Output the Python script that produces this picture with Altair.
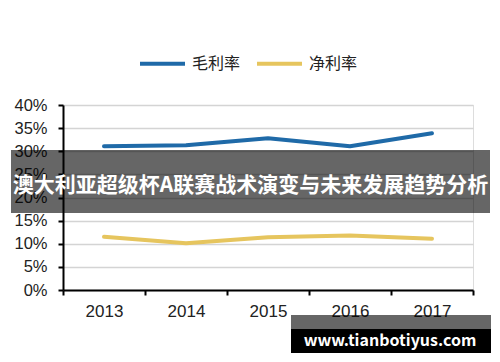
import altair as alt
import pandas as pd

years = ["2013", "2014", "2015", "2016", "2017"]
gross_margin = [0.311, 0.313, 0.328, 0.311, 0.339]
net_margin = [0.115, 0.101, 0.114, 0.118, 0.111]
series_names = ["毛利率", "净利率"]
series_colors = ["#1f6aa8", "#e6c55e"]
banner_text = "澳大利亚超级杯A联赛战术演变与未来发展趋势分析"
watermark_text = "www.tianbotiyus.com"

rows = []
for y, g, n in zip(years, gross_margin, net_margin):
    rows.append({"year": y, "series": series_names[0], "value": g})
    rows.append({"year": y, "series": series_names[1], "value": n})
df = pd.DataFrame(rows)

W, H = 410, 185

lines = alt.Chart(df).mark_line(strokeWidth=4, strokeCap="round", strokeJoin="round").encode(
    x=alt.X("year:O", bandPosition=0.5,
            scale=alt.Scale(type="band", paddingInner=0, paddingOuter=0),
            axis=alt.Axis(title=None, labelAngle=0, tickBand="extent", grid=False,
                          domainColor="#000", domainWidth=2, tickColor="#000", tickWidth=2,
                          tickSize=5, labelFont="Liberation Sans", labelFontSize=17,
                          labelColor="#222", labelPadding=8)),
    y=alt.Y("value:Q", scale=alt.Scale(domain=[0, 0.4]),
            axis=alt.Axis(title=None, format=".0%", values=[0, 0.05, 0.1, 0.15, 0.2, 0.25, 0.3, 0.35, 0.4],
                          grid=True, gridColor="#d4d4d4", gridWidth=1.5,
                          domainColor="#000", domainWidth=2, tickColor="#000", tickWidth=2,
                          tickSize=5, labelFont="Liberation Sans", labelFontSize=16.5,
                          labelColor="#222", labelPadding=11)),
    color=alt.Color("series:N", sort=series_names,
                    scale=alt.Scale(domain=series_names, range=series_colors),
                    legend=alt.Legend(title=None, orient="none", direction="horizontal",
                                      legendX=75, legendY=-66, padding=0,
                                      symbolType="stroke", symbolSize=2025, symbolStrokeWidth=4,
                                      labelFont="Noto Sans CJK SC", labelFontSize=16,
                                      labelColor="#222", labelOffset=5, columnPadding=8)),
    detail="series:N",
)

one = pd.DataFrame({"t": [banner_text]})
banner = alt.Chart(one).mark_rect(color="#000", opacity=0.6).encode(
    x=alt.value(-52), x2=alt.value(427), y=alt.value(45), y2=alt.value(108))
banner_label = alt.Chart(one).mark_text(color="#fff", fontSize=21, fontWeight="bold",
                                         font="Noto Sans CJK SC", align="center", baseline="middle").encode(
    x=alt.value(187.5), y=alt.value(81), text="t:N")

wm = pd.DataFrame({"t": [watermark_text]})
wm_gray = alt.Chart(wm).mark_rect(color="#000", opacity=0.6).encode(
    x=alt.value(228), x2=alt.value(428), y=alt.value(210), y2=alt.value(224))
wm_black = alt.Chart(wm).mark_rect(color="#000").encode(
    x=alt.value(228), x2=alt.value(428), y=alt.value(224), y2=alt.value(248))
wm_label = alt.Chart(wm).mark_text(color="#fff", fontSize=16, fontWeight="bold",
                                    font="Noto Sans CJK SC", align="center", baseline="middle").encode(
    x=alt.value(327), y=alt.value(236), text="t:N")

chart = alt.layer(lines, banner, banner_label, wm_gray, wm_black, wm_label).properties(
    width=W, height=H,
    autosize=alt.AutoSizeParams(type="none"),
    padding={"left": 63, "top": 105, "right": 27, "bottom": 72},
).configure_view(stroke=None).configure(background="#ffffff")

chart.save("out.html", embed_options={"renderer": "svg", "actions": False})
